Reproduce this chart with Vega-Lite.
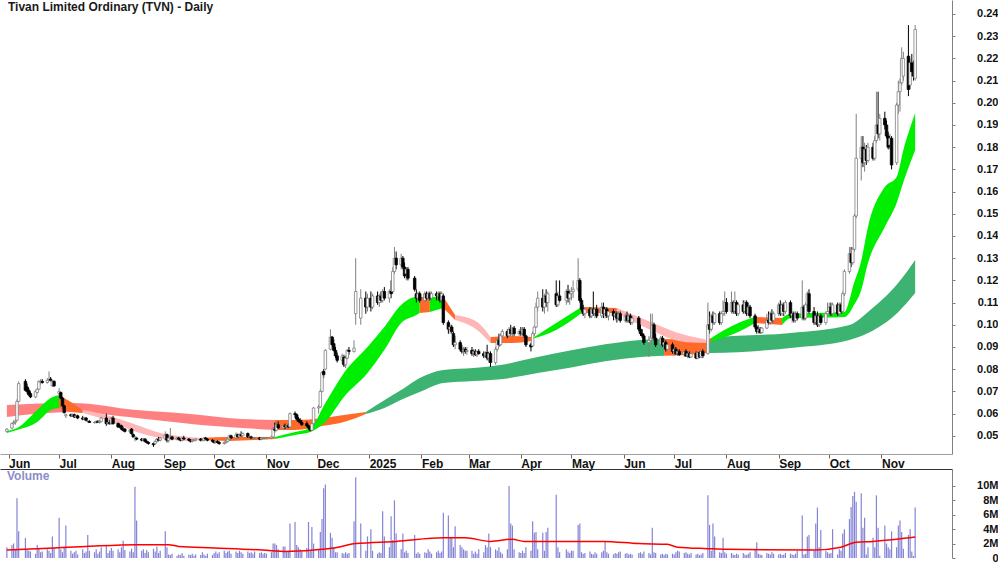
{
"$schema": "https://vega.github.io/schema/vega-lite/v6.json",
"padding": 0,
"background": "white",
"spacing": 15,
"bounds": "flush",
"config": {"font": "Liberation Sans", "view": {"stroke": null}, "axis": {"labelOverlap": false}},
"datasets": {
"px": [
{"d":"2024-05-31","o":0.0520,"h":0.0535,"l":0.0515,"c":0.0530,"v":1.5},
{"d":"2024-06-03","o":0.0535,"h":0.0560,"l":0.0530,"c":0.0555,"v":1.8},
{"d":"2024-06-04","o":0.0555,"h":0.0570,"l":0.0550,"c":0.0560,"v":2.0},
{"d":"2024-06-05","o":0.0560,"h":0.0575,"l":0.0550,"c":0.0565,"v":1.2},
{"d":"2024-06-06","o":0.0570,"h":0.0665,"l":0.0565,"c":0.0655,"v":8.3},
{"d":"2024-06-07","o":0.0655,"h":0.0745,"l":0.0650,"c":0.0735,"v":3.7},
{"d":"2024-06-11","o":0.0745,"h":0.0755,"l":0.0700,"c":0.0705,"v":2.8},
{"d":"2024-06-12","o":0.0720,"h":0.0735,"l":0.0690,"c":0.0700,"v":1.2},
{"d":"2024-06-13","o":0.0705,"h":0.0715,"l":0.0680,"c":0.0685,"v":1.0},
{"d":"2024-06-14","o":0.0690,"h":0.0700,"l":0.0670,"c":0.0675,"v":0.9},
{"d":"2024-06-17","o":0.0675,"h":0.0705,"l":0.0670,"c":0.0700,"v":0.6},
{"d":"2024-06-18","o":0.0695,"h":0.0715,"l":0.0690,"c":0.0710,"v":1.8},
{"d":"2024-06-19","o":0.0710,"h":0.0750,"l":0.0705,"c":0.0745,"v":1.3},
{"d":"2024-06-20","o":0.0740,"h":0.0755,"l":0.0730,"c":0.0745,"v":0.8},
{"d":"2024-06-21","o":0.0745,"h":0.0755,"l":0.0735,"c":0.0740,"v":0.9},
{"d":"2024-06-24","o":0.0740,"h":0.0760,"l":0.0735,"c":0.0750,"v":1.2},
{"d":"2024-06-25","o":0.0750,"h":0.0790,"l":0.0745,"c":0.0755,"v":1.0},
{"d":"2024-06-26","o":0.0755,"h":0.0765,"l":0.0745,"c":0.0750,"v":0.7},
{"d":"2024-06-27","o":0.0725,"h":0.0750,"l":0.0720,"c":0.0745,"v":3.0},
{"d":"2024-06-28","o":0.0745,"h":0.0750,"l":0.0720,"c":0.0725,"v":1.5},
{"d":"2024-07-01","o":0.0690,"h":0.0715,"l":0.0660,"c":0.0700,"v":5.6},
{"d":"2024-07-02","o":0.0695,"h":0.0700,"l":0.0665,"c":0.0670,"v":1.2},
{"d":"2024-07-03","o":0.0670,"h":0.0675,"l":0.0630,"c":0.0635,"v":0.8},
{"d":"2024-07-04","o":0.0635,"h":0.0640,"l":0.0600,"c":0.0605,"v":1.5},
{"d":"2024-07-05","o":0.0590,"h":0.0600,"l":0.0580,"c":0.0595,"v":4.5},
{"d":"2024-07-08","o":0.0595,"h":0.0600,"l":0.0585,"c":0.0590,"v":1.0},
{"d":"2024-07-09","o":0.0590,"h":0.0600,"l":0.0585,"c":0.0595,"v":0.6},
{"d":"2024-07-10","o":0.0595,"h":0.0600,"l":0.0580,"c":0.0585,"v":0.8},
{"d":"2024-07-11","o":0.0585,"h":0.0595,"l":0.0580,"c":0.0590,"v":1.0},
{"d":"2024-07-12","o":0.0590,"h":0.0595,"l":0.0575,"c":0.0580,"v":0.5},
{"d":"2024-07-15","o":0.0580,"h":0.0590,"l":0.0570,"c":0.0575,"v":1.2},
{"d":"2024-07-16","o":0.0575,"h":0.0585,"l":0.0570,"c":0.0580,"v":0.7},
{"d":"2024-07-17","o":0.0580,"h":0.0585,"l":0.0565,"c":0.0570,"v":0.9},
{"d":"2024-07-18","o":0.0565,"h":0.0570,"l":0.0560,"c":0.0565,"v":3.2},
{"d":"2024-07-19","o":0.0565,"h":0.0570,"l":0.0558,"c":0.0560,"v":1.0},
{"d":"2024-07-22","o":0.0560,"h":0.0565,"l":0.0555,"c":0.0560,"v":0.8},
{"d":"2024-07-23","o":0.0560,"h":0.0568,"l":0.0555,"c":0.0565,"v":1.2},
{"d":"2024-07-24","o":0.0565,"h":0.0570,"l":0.0558,"c":0.0560,"v":0.6},
{"d":"2024-07-25","o":0.0560,"h":0.0570,"l":0.0555,"c":0.0565,"v":0.9},
{"d":"2024-07-26","o":0.0565,"h":0.0585,"l":0.0560,"c":0.0580,"v":1.5},
{"d":"2024-07-29","o":0.0580,"h":0.0600,"l":0.0545,"c":0.0555,"v":1.8},
{"d":"2024-07-30","o":0.0555,"h":0.0570,"l":0.0550,"c":0.0560,"v":0.7},
{"d":"2024-07-31","o":0.0560,"h":0.0570,"l":0.0550,"c":0.0555,"v":1.0},
{"d":"2024-08-01","o":0.0555,"h":0.0585,"l":0.0550,"c":0.0580,"v":1.4},
{"d":"2024-08-02","o":0.0580,"h":0.0590,"l":0.0550,"c":0.0555,"v":1.0},
{"d":"2024-08-05","o":0.0555,"h":0.0560,"l":0.0535,"c":0.0540,"v":1.2},
{"d":"2024-08-06","o":0.0545,"h":0.0555,"l":0.0535,"c":0.0540,"v":0.8},
{"d":"2024-08-07","o":0.0545,"h":0.0550,"l":0.0525,"c":0.0530,"v":1.5},
{"d":"2024-08-08","o":0.0530,"h":0.0540,"l":0.0520,"c":0.0525,"v":2.4},
{"d":"2024-08-09","o":0.0530,"h":0.0535,"l":0.0515,"c":0.0520,"v":1.1},
{"d":"2024-08-12","o":0.0520,"h":0.0530,"l":0.0510,"c":0.0525,"v":0.9},
{"d":"2024-08-13","o":0.0530,"h":0.0535,"l":0.0505,"c":0.0510,"v":1.3},
{"d":"2024-08-14","o":0.0505,"h":0.0510,"l":0.0490,"c":0.0495,"v":0.8},
{"d":"2024-08-15","o":0.0490,"h":0.0500,"l":0.0475,"c":0.0495,"v":9.9},
{"d":"2024-08-16","o":0.0490,"h":0.0495,"l":0.0480,"c":0.0485,"v":5.2},
{"d":"2024-08-19","o":0.0485,"h":0.0490,"l":0.0475,"c":0.0480,"v":1.0},
{"d":"2024-08-20","o":0.0480,"h":0.0490,"l":0.0475,"c":0.0485,"v":1.2},
{"d":"2024-08-21","o":0.0485,"h":0.0490,"l":0.0470,"c":0.0475,"v":0.7},
{"d":"2024-08-22","o":0.0475,"h":0.0480,"l":0.0465,"c":0.0470,"v":1.1},
{"d":"2024-08-23","o":0.0470,"h":0.0475,"l":0.0460,"c":0.0465,"v":0.8},
{"d":"2024-08-26","o":0.0465,"h":0.0470,"l":0.0450,"c":0.0460,"v":1.3},
{"d":"2024-08-27","o":0.0465,"h":0.0480,"l":0.0460,"c":0.0475,"v":0.9},
{"d":"2024-08-28","o":0.0475,"h":0.0490,"l":0.0470,"c":0.0485,"v":1.6},
{"d":"2024-08-29","o":0.0485,"h":0.0495,"l":0.0475,"c":0.0480,"v":0.7},
{"d":"2024-08-30","o":0.0480,"h":0.0495,"l":0.0475,"c":0.0490,"v":1.0},
{"d":"2024-09-02","o":0.0485,"h":0.0520,"l":0.0480,"c":0.0505,"v":3.7},
{"d":"2024-09-03","o":0.0505,"h":0.0510,"l":0.0470,"c":0.0480,"v":1.5},
{"d":"2024-09-04","o":0.0480,"h":0.0495,"l":0.0470,"c":0.0490,"v":0.5},
{"d":"2024-09-05","o":0.0490,"h":0.0535,"l":0.0485,"c":0.0495,"v":0.4},
{"d":"2024-09-06","o":0.0495,"h":0.0500,"l":0.0480,"c":0.0485,"v":0.6},
{"d":"2024-09-09","o":0.0485,"h":0.0495,"l":0.0480,"c":0.0490,"v":0.3},
{"d":"2024-09-10","o":0.0490,"h":0.0495,"l":0.0480,"c":0.0485,"v":0.5},
{"d":"2024-09-11","o":0.0485,"h":0.0490,"l":0.0475,"c":0.0480,"v":0.4},
{"d":"2024-09-12","o":0.0480,"h":0.0495,"l":0.0475,"c":0.0490,"v":0.7},
{"d":"2024-09-13","o":0.0490,"h":0.0500,"l":0.0480,"c":0.0485,"v":0.3},
{"d":"2024-09-16","o":0.0485,"h":0.0490,"l":0.0475,"c":0.0480,"v":0.5},
{"d":"2024-09-17","o":0.0480,"h":0.0485,"l":0.0470,"c":0.0475,"v":0.4},
{"d":"2024-09-18","o":0.0475,"h":0.0485,"l":0.0470,"c":0.0480,"v":0.6},
{"d":"2024-09-19","o":0.0480,"h":0.0485,"l":0.0475,"c":0.0480,"v":0.3},
{"d":"2024-09-20","o":0.0480,"h":0.0490,"l":0.0475,"c":0.0485,"v":0.5},
{"d":"2024-09-23","o":0.0485,"h":0.0490,"l":0.0475,"c":0.0480,"v":0.4},
{"d":"2024-09-24","o":0.0480,"h":0.0485,"l":0.0475,"c":0.0480,"v":0.8},
{"d":"2024-09-25","o":0.0480,"h":0.0495,"l":0.0475,"c":0.0490,"v":0.5},
{"d":"2024-09-26","o":0.0490,"h":0.0495,"l":0.0480,"c":0.0485,"v":0.3},
{"d":"2024-09-27","o":0.0485,"h":0.0490,"l":0.0475,"c":0.0480,"v":0.6},
{"d":"2024-09-30","o":0.0480,"h":0.0485,"l":0.0470,"c":0.0475,"v":0.4},
{"d":"2024-10-01","o":0.0475,"h":0.0480,"l":0.0465,"c":0.0470,"v":0.7},
{"d":"2024-10-02","o":0.0470,"h":0.0480,"l":0.0465,"c":0.0475,"v":0.9},
{"d":"2024-10-03","o":0.0475,"h":0.0480,"l":0.0465,"c":0.0470,"v":0.6},
{"d":"2024-10-04","o":0.0470,"h":0.0475,"l":0.0460,"c":0.0465,"v":0.8},
{"d":"2024-10-07","o":0.0465,"h":0.0475,"l":0.0460,"c":0.0470,"v":1.0},
{"d":"2024-10-08","o":0.0470,"h":0.0480,"l":0.0465,"c":0.0475,"v":0.7},
{"d":"2024-10-09","o":0.0475,"h":0.0490,"l":0.0470,"c":0.0485,"v":0.9},
{"d":"2024-10-10","o":0.0485,"h":0.0505,"l":0.0480,"c":0.0500,"v":1.0},
{"d":"2024-10-11","o":0.0500,"h":0.0505,"l":0.0485,"c":0.0490,"v":0.6},
{"d":"2024-10-14","o":0.0490,"h":0.0515,"l":0.0485,"c":0.0505,"v":0.9},
{"d":"2024-10-15","o":0.0505,"h":0.0510,"l":0.0490,"c":0.0495,"v":0.7},
{"d":"2024-10-16","o":0.0495,"h":0.0510,"l":0.0490,"c":0.0505,"v":1.0},
{"d":"2024-10-17","o":0.0505,"h":0.0520,"l":0.0495,"c":0.0500,"v":0.8},
{"d":"2024-10-18","o":0.0500,"h":0.0515,"l":0.0495,"c":0.0510,"v":0.6},
{"d":"2024-10-21","o":0.0510,"h":0.0515,"l":0.0490,"c":0.0495,"v":0.9},
{"d":"2024-10-22","o":0.0495,"h":0.0500,"l":0.0490,"c":0.0495,"v":0.7},
{"d":"2024-10-23","o":0.0495,"h":0.0500,"l":0.0485,"c":0.0490,"v":0.8},
{"d":"2024-10-24","o":0.0490,"h":0.0495,"l":0.0485,"c":0.0490,"v":0.6},
{"d":"2024-10-25","o":0.0490,"h":0.0495,"l":0.0485,"c":0.0490,"v":0.9},
{"d":"2024-10-28","o":0.0490,"h":0.0495,"l":0.0480,"c":0.0485,"v":0.7},
{"d":"2024-10-29","o":0.0485,"h":0.0495,"l":0.0480,"c":0.0490,"v":0.8},
{"d":"2024-10-30","o":0.0490,"h":0.0495,"l":0.0485,"c":0.0490,"v":0.6},
{"d":"2024-10-31","o":0.0490,"h":0.0495,"l":0.0485,"c":0.0490,"v":0.7},
{"d":"2024-11-01","o":0.0490,"h":0.0495,"l":0.0485,"c":0.0490,"v":0.6},
{"d":"2024-11-04","o":0.0490,"h":0.0500,"l":0.0485,"c":0.0495,"v":0.8},
{"d":"2024-11-05","o":0.0495,"h":0.0540,"l":0.0490,"c":0.0530,"v":2.0},
{"d":"2024-11-06","o":0.0530,"h":0.0560,"l":0.0515,"c":0.0525,"v":2.0},
{"d":"2024-11-07","o":0.0525,"h":0.0560,"l":0.0520,"c":0.0550,"v":1.8},
{"d":"2024-11-08","o":0.0550,"h":0.0565,"l":0.0530,"c":0.0535,"v":1.2},
{"d":"2024-11-11","o":0.0535,"h":0.0550,"l":0.0525,"c":0.0545,"v":1.6},
{"d":"2024-11-12","o":0.0545,"h":0.0555,"l":0.0530,"c":0.0540,"v":1.6},
{"d":"2024-11-13","o":0.0540,"h":0.0550,"l":0.0530,"c":0.0545,"v":0.8},
{"d":"2024-11-14","o":0.0545,"h":0.0555,"l":0.0535,"c":0.0540,"v":1.0},
{"d":"2024-11-15","o":0.0540,"h":0.0605,"l":0.0535,"c":0.0600,"v":4.8},
{"d":"2024-11-18","o":0.0600,"h":0.0610,"l":0.0580,"c":0.0595,"v":5.0},
{"d":"2024-11-19","o":0.0595,"h":0.0600,"l":0.0570,"c":0.0575,"v":1.8},
{"d":"2024-11-20","o":0.0575,"h":0.0585,"l":0.0560,"c":0.0565,"v":1.5},
{"d":"2024-11-21","o":0.0570,"h":0.0580,"l":0.0555,"c":0.0560,"v":1.2},
{"d":"2024-11-22","o":0.0560,"h":0.0570,"l":0.0545,"c":0.0550,"v":0.9},
{"d":"2024-11-25","o":0.0555,"h":0.0565,"l":0.0540,"c":0.0545,"v":1.4},
{"d":"2024-11-26","o":0.0545,"h":0.0550,"l":0.0530,"c":0.0535,"v":5.0},
{"d":"2024-11-27","o":0.0535,"h":0.0545,"l":0.0520,"c":0.0525,"v":1.0},
{"d":"2024-11-28","o":0.0525,"h":0.0560,"l":0.0520,"c":0.0555,"v":4.3},
{"d":"2024-11-29","o":0.0555,"h":0.0630,"l":0.0550,"c":0.0625,"v":2.0},
{"d":"2024-12-02","o":0.0625,"h":0.0640,"l":0.0600,"c":0.0630,"v":1.3},
{"d":"2024-12-03","o":0.0630,"h":0.0710,"l":0.0625,"c":0.0700,"v":3.6},
{"d":"2024-12-04","o":0.0700,"h":0.0790,"l":0.0695,"c":0.0785,"v":5.4},
{"d":"2024-12-05","o":0.0790,"h":0.0800,"l":0.0760,"c":0.0775,"v":9.7},
{"d":"2024-12-06","o":0.0800,"h":0.0890,"l":0.0795,"c":0.0885,"v":10.2},
{"d":"2024-12-09","o":0.0890,"h":0.0980,"l":0.0885,"c":0.0945,"v":3.5},
{"d":"2024-12-10","o":0.0945,"h":0.0950,"l":0.0900,"c":0.0910,"v":2.8},
{"d":"2024-12-11","o":0.0915,"h":0.0935,"l":0.0880,"c":0.0885,"v":1.5},
{"d":"2024-12-12","o":0.0885,"h":0.0900,"l":0.0850,"c":0.0860,"v":0.8},
{"d":"2024-12-13","o":0.0860,"h":0.0875,"l":0.0830,"c":0.0840,"v":0.8},
{"d":"2024-12-16","o":0.0840,"h":0.0870,"l":0.0825,"c":0.0860,"v":0.7},
{"d":"2024-12-17","o":0.0855,"h":0.0865,"l":0.0810,"c":0.0820,"v":0.6},
{"d":"2024-12-18","o":0.0820,"h":0.0860,"l":0.0805,"c":0.0850,"v":0.8},
{"d":"2024-12-19","o":0.0850,"h":0.0890,"l":0.0845,"c":0.0885,"v":0.6},
{"d":"2024-12-20","o":0.0885,"h":0.0900,"l":0.0865,"c":0.0880,"v":0.7},
{"d":"2024-12-23","o":0.0880,"h":0.0930,"l":0.0875,"c":0.0895,"v":5.1},
{"d":"2024-12-24","o":0.1050,"h":0.1300,"l":0.1000,"c":0.1150,"v":11.2},
{"d":"2024-12-27","o":0.1030,"h":0.1160,"l":0.1000,"c":0.1120,"v":4.8},
{"d":"2024-12-30","o":0.1120,"h":0.1150,"l":0.1050,"c":0.1080,"v":1.0},
{"d":"2024-12-31","o":0.1080,"h":0.1140,"l":0.1060,"c":0.1120,"v":3.0},
{"d":"2025-01-02","o":0.1120,"h":0.1150,"l":0.1060,"c":0.1080,"v":4.0},
{"d":"2025-01-03","o":0.1080,"h":0.1140,"l":0.1070,"c":0.1130,"v":1.0},
{"d":"2025-01-06","o":0.1130,"h":0.1150,"l":0.1090,"c":0.1100,"v":0.6},
{"d":"2025-01-07","o":0.1100,"h":0.1140,"l":0.1080,"c":0.1130,"v":0.8},
{"d":"2025-01-08","o":0.1130,"h":0.1150,"l":0.1100,"c":0.1110,"v":0.7},
{"d":"2025-01-09","o":0.1110,"h":0.1160,"l":0.1100,"c":0.1150,"v":6.5},
{"d":"2025-01-10","o":0.1150,"h":0.1170,"l":0.1110,"c":0.1120,"v":3.0},
{"d":"2025-01-13","o":0.1120,"h":0.1160,"l":0.1100,"c":0.1150,"v":1.5},
{"d":"2025-01-14","o":0.1150,"h":0.1200,"l":0.1120,"c":0.1140,"v":5.8},
{"d":"2025-01-15","o":0.1150,"h":0.1260,"l":0.1140,"c":0.1240,"v":2.5},
{"d":"2025-01-16","o":0.1240,"h":0.1350,"l":0.1230,"c":0.1300,"v":8.0},
{"d":"2025-01-17","o":0.1300,"h":0.1330,"l":0.1250,"c":0.1270,"v":3.4},
{"d":"2025-01-20","o":0.1270,"h":0.1320,"l":0.1250,"c":0.1300,"v":1.2},
{"d":"2025-01-21","o":0.1300,"h":0.1310,"l":0.1250,"c":0.1260,"v":3.4},
{"d":"2025-01-22","o":0.1260,"h":0.1280,"l":0.1210,"c":0.1220,"v":0.8},
{"d":"2025-01-23","o":0.1230,"h":0.1260,"l":0.1200,"c":0.1250,"v":1.0},
{"d":"2025-01-24","o":0.1250,"h":0.1260,"l":0.1200,"c":0.1210,"v":0.7},
{"d":"2025-01-28","o":0.1210,"h":0.1220,"l":0.1150,"c":0.1160,"v":3.2},
{"d":"2025-01-29","o":0.1140,"h":0.1160,"l":0.1100,"c":0.1120,"v":0.6},
{"d":"2025-01-30","o":0.1120,"h":0.1150,"l":0.1110,"c":0.1140,"v":0.8},
{"d":"2025-01-31","o":0.1140,"h":0.1150,"l":0.1100,"c":0.1110,"v":0.6},
{"d":"2025-02-03","o":0.1110,"h":0.1150,"l":0.1100,"c":0.1140,"v":0.8},
{"d":"2025-02-04","o":0.1140,"h":0.1150,"l":0.1110,"c":0.1120,"v":0.7},
{"d":"2025-02-05","o":0.1120,"h":0.1150,"l":0.1110,"c":0.1140,"v":1.2},
{"d":"2025-02-06","o":0.1140,"h":0.1150,"l":0.1110,"c":0.1120,"v":0.9},
{"d":"2025-02-07","o":0.1120,"h":0.1150,"l":0.1110,"c":0.1140,"v":0.6},
{"d":"2025-02-10","o":0.1140,"h":0.1150,"l":0.1110,"c":0.1130,"v":0.8},
{"d":"2025-02-11","o":0.1130,"h":0.1150,"l":0.1110,"c":0.1140,"v":1.0},
{"d":"2025-02-12","o":0.1140,"h":0.1150,"l":0.1100,"c":0.1110,"v":0.7},
{"d":"2025-02-13","o":0.1110,"h":0.1150,"l":0.1100,"c":0.1140,"v":0.9},
{"d":"2025-02-14","o":0.1130,"h":0.1140,"l":0.1000,"c":0.1010,"v":6.3},
{"d":"2025-02-17","o":0.1010,"h":0.1020,"l":0.0960,"c":0.0980,"v":5.9},
{"d":"2025-02-18","o":0.0980,"h":0.1000,"l":0.0960,"c":0.0990,"v":2.8},
{"d":"2025-02-19","o":0.0990,"h":0.1000,"l":0.0960,"c":0.0970,"v":2.8},
{"d":"2025-02-20","o":0.0960,"h":0.0970,"l":0.0900,"c":0.0910,"v":1.5},
{"d":"2025-02-21","o":0.0910,"h":0.0950,"l":0.0890,"c":0.0920,"v":4.4},
{"d":"2025-02-24","o":0.0920,"h":0.0930,"l":0.0880,"c":0.0890,"v":1.8},
{"d":"2025-02-25","o":0.0890,"h":0.0910,"l":0.0870,"c":0.0880,"v":1.5},
{"d":"2025-02-26","o":0.0880,"h":0.0900,"l":0.0860,"c":0.0890,"v":1.2},
{"d":"2025-02-27","o":0.0890,"h":0.0900,"l":0.0870,"c":0.0880,"v":1.0},
{"d":"2025-02-28","o":0.0880,"h":0.0900,"l":0.0865,"c":0.0885,"v":1.0},
{"d":"2025-03-03","o":0.0885,"h":0.0900,"l":0.0860,"c":0.0870,"v":1.0},
{"d":"2025-03-04","o":0.0870,"h":0.0890,"l":0.0855,"c":0.0880,"v":0.6},
{"d":"2025-03-05","o":0.0880,"h":0.0890,"l":0.0860,"c":0.0865,"v":0.9},
{"d":"2025-03-06","o":0.0865,"h":0.0885,"l":0.0855,"c":0.0880,"v":0.6},
{"d":"2025-03-07","o":0.0880,"h":0.0890,"l":0.0865,"c":0.0870,"v":1.2},
{"d":"2025-03-10","o":0.0870,"h":0.0880,"l":0.0850,"c":0.0860,"v":0.8},
{"d":"2025-03-11","o":0.0860,"h":0.0880,"l":0.0855,"c":0.0875,"v":1.8},
{"d":"2025-03-12","o":0.0875,"h":0.0910,"l":0.0840,"c":0.0850,"v":1.5},
{"d":"2025-03-13","o":0.0850,"h":0.0880,"l":0.0830,"c":0.0870,"v":3.4},
{"d":"2025-03-14","o":0.0870,"h":0.0880,"l":0.0810,"c":0.0830,"v":1.5},
{"d":"2025-03-17","o":0.0830,"h":0.0900,"l":0.0820,"c":0.0890,"v":1.2},
{"d":"2025-03-18","o":0.0890,"h":0.0940,"l":0.0880,"c":0.0930,"v":1.0},
{"d":"2025-03-19","o":0.0930,"h":0.0960,"l":0.0900,"c":0.0910,"v":1.5},
{"d":"2025-03-20","o":0.0910,"h":0.0960,"l":0.0905,"c":0.0950,"v":0.8},
{"d":"2025-03-21","o":0.0950,"h":0.0980,"l":0.0940,"c":0.0970,"v":0.6},
{"d":"2025-03-24","o":0.0970,"h":0.0980,"l":0.0940,"c":0.0950,"v":1.2},
{"d":"2025-03-25","o":0.0950,"h":0.0990,"l":0.0945,"c":0.0980,"v":10.0},
{"d":"2025-03-26","o":0.0980,"h":0.1000,"l":0.0950,"c":0.0960,"v":4.8},
{"d":"2025-03-27","o":0.0960,"h":0.0990,"l":0.0945,"c":0.0985,"v":4.5},
{"d":"2025-03-28","o":0.0985,"h":0.0995,"l":0.0950,"c":0.0960,"v":1.2},
{"d":"2025-03-31","o":0.0960,"h":0.0980,"l":0.0950,"c":0.0970,"v":0.8},
{"d":"2025-04-01","o":0.0970,"h":0.0990,"l":0.0950,"c":0.0960,"v":0.7},
{"d":"2025-04-02","o":0.0960,"h":0.0990,"l":0.0955,"c":0.0980,"v":1.0},
{"d":"2025-04-03","o":0.0980,"h":0.0990,"l":0.0940,"c":0.0950,"v":0.7},
{"d":"2025-04-04","o":0.0950,"h":0.0955,"l":0.0900,"c":0.0910,"v":1.5},
{"d":"2025-04-07","o":0.0910,"h":0.0920,"l":0.0880,"c":0.0900,"v":1.0},
{"d":"2025-04-08","o":0.0905,"h":0.0970,"l":0.0900,"c":0.0960,"v":5.1},
{"d":"2025-04-09","o":0.0960,"h":0.0995,"l":0.0950,"c":0.0990,"v":3.5},
{"d":"2025-04-10","o":0.0990,"h":0.1100,"l":0.0985,"c":0.1080,"v":3.6},
{"d":"2025-04-11","o":0.1080,"h":0.1150,"l":0.1060,"c":0.1120,"v":1.2},
{"d":"2025-04-14","o":0.1120,"h":0.1160,"l":0.1060,"c":0.1080,"v":3.5},
{"d":"2025-04-15","o":0.1080,"h":0.1140,"l":0.1050,"c":0.1130,"v":1.0},
{"d":"2025-04-16","o":0.1130,"h":0.1160,"l":0.1080,"c":0.1100,"v":3.6},
{"d":"2025-04-17","o":0.1100,"h":0.1150,"l":0.1060,"c":0.1140,"v":4.2},
{"d":"2025-04-22","o":0.1140,"h":0.1200,"l":0.1080,"c":0.1090,"v":8.8},
{"d":"2025-04-23","o":0.1090,"h":0.1150,"l":0.1080,"c":0.1130,"v":1.5},
{"d":"2025-04-24","o":0.1130,"h":0.1200,"l":0.1100,"c":0.1110,"v":0.8},
{"d":"2025-04-28","o":0.1110,"h":0.1160,"l":0.1090,"c":0.1150,"v":1.2},
{"d":"2025-04-29","o":0.1150,"h":0.1180,"l":0.1100,"c":0.1120,"v":0.9},
{"d":"2025-04-30","o":0.1120,"h":0.1160,"l":0.1090,"c":0.1140,"v":0.7},
{"d":"2025-05-01","o":0.1140,"h":0.1170,"l":0.1110,"c":0.1150,"v":1.0},
{"d":"2025-05-02","o":0.1150,"h":0.1200,"l":0.1120,"c":0.1160,"v":1.0},
{"d":"2025-05-05","o":0.1160,"h":0.1300,"l":0.1150,"c":0.1200,"v":4.6},
{"d":"2025-05-06","o":0.1200,"h":0.1210,"l":0.1100,"c":0.1110,"v":4.8},
{"d":"2025-05-07","o":0.1110,"h":0.1120,"l":0.1060,"c":0.1070,"v":0.8},
{"d":"2025-05-08","o":0.1070,"h":0.1090,"l":0.1040,"c":0.1050,"v":0.6},
{"d":"2025-05-09","o":0.1050,"h":0.1080,"l":0.1030,"c":0.1070,"v":0.7},
{"d":"2025-05-12","o":0.1070,"h":0.1080,"l":0.1030,"c":0.1040,"v":0.9},
{"d":"2025-05-13","o":0.1040,"h":0.1080,"l":0.1030,"c":0.1070,"v":0.6},
{"d":"2025-05-14","o":0.1070,"h":0.1150,"l":0.1040,"c":0.1050,"v":0.5},
{"d":"2025-05-15","o":0.1050,"h":0.1080,"l":0.1030,"c":0.1070,"v":0.8},
{"d":"2025-05-16","o":0.1070,"h":0.1090,"l":0.1030,"c":0.1040,"v":0.6},
{"d":"2025-05-19","o":0.1040,"h":0.1100,"l":0.1030,"c":0.1080,"v":0.8},
{"d":"2025-05-20","o":0.1080,"h":0.1100,"l":0.1030,"c":0.1050,"v":1.0},
{"d":"2025-05-21","o":0.1050,"h":0.1080,"l":0.1030,"c":0.1070,"v":2.3},
{"d":"2025-05-22","o":0.1070,"h":0.1080,"l":0.1030,"c":0.1040,"v":0.8},
{"d":"2025-05-23","o":0.1040,"h":0.1070,"l":0.1020,"c":0.1060,"v":0.6},
{"d":"2025-05-26","o":0.1060,"h":0.1070,"l":0.1020,"c":0.1040,"v":0.5},
{"d":"2025-05-27","o":0.1040,"h":0.1060,"l":0.1020,"c":0.1050,"v":0.7},
{"d":"2025-05-28","o":0.1050,"h":0.1060,"l":0.1010,"c":0.1030,"v":0.6},
{"d":"2025-05-29","o":0.1030,"h":0.1060,"l":0.1020,"c":0.1050,"v":0.8},
{"d":"2025-05-30","o":0.1050,"h":0.1060,"l":0.1010,"c":0.1020,"v":0.9},
{"d":"2025-06-02","o":0.1020,"h":0.1050,"l":0.1010,"c":0.1040,"v":0.6},
{"d":"2025-06-03","o":0.1040,"h":0.1060,"l":0.1010,"c":0.1020,"v":0.7},
{"d":"2025-06-04","o":0.1020,"h":0.1050,"l":0.1010,"c":0.1040,"v":0.5},
{"d":"2025-06-05","o":0.1040,"h":0.1050,"l":0.1000,"c":0.1010,"v":0.6},
{"d":"2025-06-06","o":0.1010,"h":0.1040,"l":0.1000,"c":0.1030,"v":0.5},
{"d":"2025-06-10","o":0.1030,"h":0.1040,"l":0.0970,"c":0.0980,"v":0.7},
{"d":"2025-06-11","o":0.0980,"h":0.1000,"l":0.0950,"c":0.0960,"v":0.8},
{"d":"2025-06-12","o":0.0960,"h":0.0980,"l":0.0940,"c":0.0950,"v":0.6},
{"d":"2025-06-13","o":0.0950,"h":0.0960,"l":0.0910,"c":0.0920,"v":0.9},
{"d":"2025-06-16","o":0.0920,"h":0.0950,"l":0.0855,"c":0.0930,"v":0.7},
{"d":"2025-06-17","o":0.0930,"h":0.1050,"l":0.0920,"c":0.0940,"v":0.5},
{"d":"2025-06-18","o":0.0940,"h":0.1050,"l":0.0930,"c":0.1000,"v":4.2},
{"d":"2025-06-19","o":0.1000,"h":0.1010,"l":0.0930,"c":0.0940,"v":0.8},
{"d":"2025-06-20","o":0.0940,"h":0.0960,"l":0.0900,"c":0.0910,"v":0.7},
{"d":"2025-06-23","o":0.0910,"h":0.0950,"l":0.0900,"c":0.0940,"v":0.5},
{"d":"2025-06-24","o":0.0940,"h":0.0950,"l":0.0900,"c":0.0910,"v":0.6},
{"d":"2025-06-25","o":0.0910,"h":0.0940,"l":0.0890,"c":0.0920,"v":0.4},
{"d":"2025-06-26","o":0.0920,"h":0.0930,"l":0.0880,"c":0.0890,"v":0.6},
{"d":"2025-06-27","o":0.0890,"h":0.0920,"l":0.0880,"c":0.0910,"v":0.5},
{"d":"2025-06-30","o":0.0910,"h":0.0920,"l":0.0870,"c":0.0880,"v":0.6},
{"d":"2025-07-01","o":0.0880,"h":0.0900,"l":0.0860,"c":0.0890,"v":0.5},
{"d":"2025-07-02","o":0.0890,"h":0.0900,"l":0.0865,"c":0.0870,"v":0.8},
{"d":"2025-07-03","o":0.0870,"h":0.0890,"l":0.0860,"c":0.0880,"v":1.0},
{"d":"2025-07-04","o":0.0880,"h":0.0890,"l":0.0860,"c":0.0865,"v":0.9},
{"d":"2025-07-07","o":0.0865,"h":0.0885,"l":0.0855,"c":0.0880,"v":0.7},
{"d":"2025-07-08","o":0.0880,"h":0.0890,"l":0.0855,"c":0.0860,"v":0.8},
{"d":"2025-07-09","o":0.0860,"h":0.0880,"l":0.0850,"c":0.0870,"v":0.6},
{"d":"2025-07-10","o":0.0870,"h":0.0880,"l":0.0850,"c":0.0855,"v":0.5},
{"d":"2025-07-11","o":0.0855,"h":0.0875,"l":0.0850,"c":0.0870,"v":0.7},
{"d":"2025-07-14","o":0.0870,"h":0.0880,"l":0.0845,"c":0.0850,"v":0.5},
{"d":"2025-07-15","o":0.0850,"h":0.0880,"l":0.0845,"c":0.0875,"v":0.6},
{"d":"2025-07-16","o":0.0875,"h":0.0880,"l":0.0850,"c":0.0855,"v":0.4},
{"d":"2025-07-17","o":0.0855,"h":0.0885,"l":0.0850,"c":0.0880,"v":0.5},
{"d":"2025-07-18","o":0.0880,"h":0.0890,"l":0.0850,"c":0.0860,"v":0.7},
{"d":"2025-07-21","o":0.0870,"h":0.1100,"l":0.0865,"c":0.1000,"v":8.7},
{"d":"2025-07-22","o":0.1000,"h":0.1060,"l":0.0960,"c":0.0980,"v":4.6},
{"d":"2025-07-23","o":0.0980,"h":0.1050,"l":0.0970,"c":0.1040,"v":1.0},
{"d":"2025-07-24","o":0.1040,"h":0.1060,"l":0.1000,"c":0.1010,"v":4.8},
{"d":"2025-07-25","o":0.1010,"h":0.1055,"l":0.1000,"c":0.1050,"v":3.0},
{"d":"2025-07-28","o":0.1050,"h":0.1060,"l":0.1000,"c":0.1010,"v":0.8},
{"d":"2025-07-29","o":0.1010,"h":0.1060,"l":0.1000,"c":0.1050,"v":0.7},
{"d":"2025-07-30","o":0.1050,"h":0.1110,"l":0.1040,"c":0.1060,"v":2.8},
{"d":"2025-07-31","o":0.1060,"h":0.1150,"l":0.1040,"c":0.1100,"v":0.8},
{"d":"2025-08-01","o":0.1100,"h":0.1120,"l":0.1050,"c":0.1060,"v":0.6},
{"d":"2025-08-04","o":0.1060,"h":0.1150,"l":0.1050,"c":0.1100,"v":0.7},
{"d":"2025-08-05","o":0.1100,"h":0.1110,"l":0.1050,"c":0.1060,"v":0.5},
{"d":"2025-08-06","o":0.1060,"h":0.1150,"l":0.1050,"c":0.1100,"v":0.4},
{"d":"2025-08-07","o":0.1100,"h":0.1110,"l":0.1040,"c":0.1050,"v":0.6},
{"d":"2025-08-08","o":0.1050,"h":0.1100,"l":0.1040,"c":0.1090,"v":0.5},
{"d":"2025-08-11","o":0.1090,"h":0.1110,"l":0.1050,"c":0.1060,"v":0.7},
{"d":"2025-08-12","o":0.1060,"h":0.1110,"l":0.1050,"c":0.1100,"v":0.5},
{"d":"2025-08-13","o":0.1100,"h":0.1110,"l":0.1040,"c":0.1050,"v":0.4},
{"d":"2025-08-14","o":0.1050,"h":0.1100,"l":0.1040,"c":0.1080,"v":0.6},
{"d":"2025-08-15","o":0.1080,"h":0.1090,"l":0.1030,"c":0.1040,"v":0.8},
{"d":"2025-08-18","o":0.1040,"h":0.1050,"l":0.0980,"c":0.0990,"v":1.2},
{"d":"2025-08-19","o":0.0990,"h":0.1000,"l":0.0960,"c":0.0970,"v":2.2},
{"d":"2025-08-20","o":0.0970,"h":0.1000,"l":0.0960,"c":0.0980,"v":0.6},
{"d":"2025-08-21","o":0.0980,"h":0.0990,"l":0.0960,"c":0.0965,"v":0.5},
{"d":"2025-08-22","o":0.0965,"h":0.0990,"l":0.0960,"c":0.0985,"v":0.4},
{"d":"2025-08-25","o":0.0985,"h":0.1050,"l":0.0980,"c":0.1020,"v":0.7},
{"d":"2025-08-26","o":0.1020,"h":0.1060,"l":0.1000,"c":0.1010,"v":0.6},
{"d":"2025-08-27","o":0.1010,"h":0.1060,"l":0.1000,"c":0.1050,"v":0.5},
{"d":"2025-08-28","o":0.1050,"h":0.1070,"l":0.1010,"c":0.1020,"v":0.8},
{"d":"2025-08-29","o":0.1020,"h":0.1060,"l":0.1010,"c":0.1050,"v":0.6},
{"d":"2025-09-01","o":0.1050,"h":0.1100,"l":0.1040,"c":0.1090,"v":0.5},
{"d":"2025-09-02","o":0.1090,"h":0.1110,"l":0.1040,"c":0.1050,"v":0.6},
{"d":"2025-09-03","o":0.1050,"h":0.1100,"l":0.1040,"c":0.1090,"v":0.4},
{"d":"2025-09-04","o":0.1090,"h":0.1100,"l":0.1040,"c":0.1060,"v":0.5},
{"d":"2025-09-05","o":0.1060,"h":0.1110,"l":0.1050,"c":0.1100,"v":0.7},
{"d":"2025-09-08","o":0.1100,"h":0.1110,"l":0.1030,"c":0.1040,"v":0.6},
{"d":"2025-09-09","o":0.1040,"h":0.1060,"l":0.1010,"c":0.1050,"v":0.5},
{"d":"2025-09-10","o":0.1050,"h":0.1060,"l":0.1010,"c":0.1020,"v":0.4},
{"d":"2025-09-11","o":0.1020,"h":0.1060,"l":0.1010,"c":0.1050,"v":0.6},
{"d":"2025-09-12","o":0.1050,"h":0.1060,"l":0.1020,"c":0.1030,"v":1.0},
{"d":"2025-09-15","o":0.1030,"h":0.1200,"l":0.1020,"c":0.1080,"v":5.9},
{"d":"2025-09-16","o":0.1080,"h":0.1090,"l":0.1020,"c":0.1030,"v":0.5},
{"d":"2025-09-17","o":0.1030,"h":0.1100,"l":0.1020,"c":0.1090,"v":0.6},
{"d":"2025-09-18","o":0.1090,"h":0.1150,"l":0.1060,"c":0.1140,"v":3.0},
{"d":"2025-09-19","o":0.1140,"h":0.1160,"l":0.1050,"c":0.1060,"v":3.2},
{"d":"2025-09-22","o":0.1060,"h":0.1080,"l":0.1000,"c":0.1010,"v":1.0},
{"d":"2025-09-23","o":0.1010,"h":0.1050,"l":0.1000,"c":0.1040,"v":4.8},
{"d":"2025-09-24","o":0.1040,"h":0.1060,"l":0.0990,"c":0.1000,"v":7.0},
{"d":"2025-09-25","o":0.1000,"h":0.1050,"l":0.0990,"c":0.1040,"v":1.5},
{"d":"2025-09-26","o":0.1040,"h":0.1050,"l":0.1000,"c":0.1010,"v":3.9},
{"d":"2025-09-29","o":0.1010,"h":0.1060,"l":0.1000,"c":0.1050,"v":1.0},
{"d":"2025-09-30","o":0.1050,"h":0.1100,"l":0.1040,"c":0.1060,"v":0.8},
{"d":"2025-10-01","o":0.1060,"h":0.1100,"l":0.1040,"c":0.1080,"v":0.6},
{"d":"2025-10-02","o":0.1080,"h":0.1100,"l":0.1040,"c":0.1050,"v":0.7},
{"d":"2025-10-03","o":0.1050,"h":0.1100,"l":0.1040,"c":0.1090,"v":4.0},
{"d":"2025-10-06","o":0.1090,"h":0.1100,"l":0.1040,"c":0.1050,"v":0.5},
{"d":"2025-10-07","o":0.1050,"h":0.1100,"l":0.1040,"c":0.1090,"v":1.2},
{"d":"2025-10-08","o":0.1090,"h":0.1100,"l":0.1050,"c":0.1060,"v":1.0},
{"d":"2025-10-09","o":0.1060,"h":0.1150,"l":0.1050,"c":0.1140,"v":3.4},
{"d":"2025-10-10","o":0.1140,"h":0.1250,"l":0.1130,"c":0.1240,"v":4.0},
{"d":"2025-10-13","o":0.1240,"h":0.1350,"l":0.1230,"c":0.1320,"v":5.4},
{"d":"2025-10-14","o":0.1320,"h":0.1350,"l":0.1260,"c":0.1280,"v":7.1},
{"d":"2025-10-15","o":0.1280,"h":0.1350,"l":0.1270,"c":0.1340,"v":8.6},
{"d":"2025-10-16","o":0.1340,"h":0.1500,"l":0.1330,"c":0.1490,"v":9.2},
{"d":"2025-10-17","o":0.1490,"h":0.1950,"l":0.1480,"c":0.1750,"v":7.8},
{"d":"2025-10-20","o":0.1750,"h":0.1850,"l":0.1650,"c":0.1800,"v":9.0},
{"d":"2025-10-21","o":0.1800,"h":0.1850,"l":0.1710,"c":0.1730,"v":4.2},
{"d":"2025-10-22","o":0.1730,"h":0.1820,"l":0.1690,"c":0.1790,"v":5.6},
{"d":"2025-10-23","o":0.1790,"h":0.1810,"l":0.1720,"c":0.1740,"v":0.5},
{"d":"2025-10-24","o":0.1740,"h":0.1820,"l":0.1730,"c":0.1800,"v":1.5},
{"d":"2025-10-27","o":0.1800,"h":0.1820,"l":0.1740,"c":0.1750,"v":2.8},
{"d":"2025-10-28","o":0.1750,"h":0.1850,"l":0.1740,"c":0.1830,"v":1.5},
{"d":"2025-10-29","o":0.1830,"h":0.2050,"l":0.1820,"c":0.1900,"v":8.7},
{"d":"2025-10-30","o":0.1900,"h":0.2050,"l":0.1840,"c":0.1860,"v":4.2},
{"d":"2025-10-31","o":0.1860,"h":0.1950,"l":0.1830,"c":0.1930,"v":0.3},
{"d":"2025-11-03","o":0.1930,"h":0.1960,"l":0.1880,"c":0.1900,"v":4.5},
{"d":"2025-11-04","o":0.1900,"h":0.1920,"l":0.1840,"c":0.1850,"v":2.0},
{"d":"2025-11-05","o":0.1850,"h":0.1870,"l":0.1790,"c":0.1800,"v":1.5},
{"d":"2025-11-06","o":0.1810,"h":0.1860,"l":0.1790,"c":0.1840,"v":1.2},
{"d":"2025-11-07","o":0.1840,"h":0.1850,"l":0.1700,"c":0.1720,"v":3.7},
{"d":"2025-11-10","o":0.1730,"h":0.2000,"l":0.1720,"c":0.1990,"v":1.5},
{"d":"2025-11-11","o":0.1990,"h":0.2100,"l":0.1950,"c":0.2050,"v":4.5},
{"d":"2025-11-12","o":0.2050,"h":0.2110,"l":0.1960,"c":0.2090,"v":5.2},
{"d":"2025-11-13","o":0.2090,"h":0.2250,"l":0.2080,"c":0.2200,"v":3.6},
{"d":"2025-11-14","o":0.2120,"h":0.2230,"l":0.2100,"c":0.2200,"v":1.3},
{"d":"2025-11-17","o":0.2210,"h":0.2350,"l":0.2030,"c":0.2060,"v":3.2},
{"d":"2025-11-18","o":0.2080,"h":0.2200,"l":0.2060,"c":0.2180,"v":4.0},
{"d":"2025-11-19","o":0.2180,"h":0.2220,"l":0.2120,"c":0.2140,"v":0.9},
{"d":"2025-11-20","o":0.2150,"h":0.2190,"l":0.2100,"c":0.2120,"v":0.3},
{"d":"2025-11-21","o":0.2110,"h":0.2350,"l":0.2100,"c":0.2330,"v":7.0}
],
"lr": [
{"d":"2024-05-31","hi":0.0639,"lo":0.0585,"s":"lDown","g":"L1"},
{"d":"2024-07-09","hi":0.0648,"lo":0.0607,"s":"lDown","g":"L1"},
{"d":"2024-08-16","hi":0.0616,"lo":0.0580,"s":"lDown","g":"L1"},
{"d":"2024-09-23","hi":0.0594,"lo":0.0549,"s":"lDown","g":"L1"},
{"d":"2024-10-09","hi":0.0580,"lo":0.0540,"s":"lDown","g":"L1"},
{"d":"2024-11-06","hi":0.0571,"lo":0.0526,"s":"lDown","g":"L1"},
{"d":"2024-11-06","hi":0.0571,"lo":0.0526,"s":"mix","g":"L2"},
{"d":"2024-11-18","hi":0.0571,"lo":0.0526,"s":"mix","g":"L2"},
{"d":"2024-12-05","hi":0.0580,"lo":0.0545,"s":"mix","g":"L2"},
{"d":"2024-12-17","hi":0.0594,"lo":0.0562,"s":"mix","g":"L2"},
{"d":"2024-12-30","hi":0.0607,"lo":0.0598,"s":"mix","g":"L2"},
{"d":"2024-12-30","hi":0.0607,"lo":0.0598,"s":"lUp","g":"L3"},
{"d":"2025-01-10","hi":0.0660,"lo":0.0625,"s":"lUp","g":"L3"},
{"d":"2025-01-20","hi":0.0706,"lo":0.0662,"s":"lUp","g":"L3"},
{"d":"2025-01-31","hi":0.0760,"lo":0.0697,"s":"lUp","g":"L3"},
{"d":"2025-02-14","hi":0.0796,"lo":0.0738,"s":"lUp","g":"L3"},
{"d":"2025-03-04","hi":0.0805,"lo":0.0747,"s":"lUp","g":"L3"},
{"d":"2025-03-20","hi":0.0819,"lo":0.0755,"s":"lUp","g":"L3"},
{"d":"2025-04-11","hi":0.0855,"lo":0.0783,"s":"lUp","g":"L3"},
{"d":"2025-05-01","hi":0.0885,"lo":0.0808,"s":"lUp","g":"L3"},
{"d":"2025-05-22","hi":0.0913,"lo":0.0837,"s":"lUp","g":"L3"},
{"d":"2025-06-11","hi":0.0932,"lo":0.0855,"s":"lUp","g":"L3"},
{"d":"2025-06-25","hi":0.0936,"lo":0.0860,"s":"lUp","g":"L3"},
{"d":"2025-06-25","hi":0.0936,"lo":0.0860,"s":"mix","g":"L4"},
{"d":"2025-07-08","hi":0.0932,"lo":0.0864,"s":"mix","g":"L4"},
{"d":"2025-07-21","hi":0.0923,"lo":0.0873,"s":"mix","g":"L4"},
{"d":"2025-07-21","hi":0.0923,"lo":0.0873,"s":"lUp","g":"L5"},
{"d":"2025-07-23","hi":0.0941,"lo":0.0873,"s":"lUp","g":"L5"},
{"d":"2025-09-08","hi":0.0963,"lo":0.0896,"s":"lUp","g":"L5"},
{"d":"2025-10-13","hi":0.0999,"lo":0.0932,"s":"lUp","g":"L5"},
{"d":"2025-10-24","hi":0.1058,"lo":0.0963,"s":"lUp","g":"L5"},
{"d":"2025-11-11","hi":0.1189,"lo":0.1058,"s":"lUp","g":"L5"},
{"d":"2025-11-21","hi":0.1292,"lo":0.1143,"s":"lUp","g":"L5"}
],
"sr": [
{"d":"2024-05-31","hi":0.0522,"lo":0.0513,"s":"sUp","g":"S1"},
{"d":"2024-06-06","hi":0.0535,"lo":0.0526,"s":"sUp","g":"S1"},
{"d":"2024-06-18","hi":0.0616,"lo":0.0562,"s":"sUp","g":"S1"},
{"d":"2024-06-26","hi":0.0670,"lo":0.0616,"s":"sUp","g":"S1"},
{"d":"2024-07-01","hi":0.0684,"lo":0.0625,"s":"sUp","g":"S1"},
{"d":"2024-07-01","hi":0.0684,"lo":0.0625,"s":"mix","g":"S2"},
{"d":"2024-07-08","hi":0.0652,"lo":0.0607,"s":"mix","g":"S2"},
{"d":"2024-07-15","hi":0.0616,"lo":0.0603,"s":"mix","g":"S2"},
{"d":"2024-07-15","hi":0.0616,"lo":0.0603,"s":"sDown","g":"S3"},
{"d":"2024-07-29","hi":0.0594,"lo":0.0571,"s":"sDown","g":"S3"},
{"d":"2024-08-16","hi":0.0549,"lo":0.0517,"s":"sDown","g":"S3"},
{"d":"2024-08-30","hi":0.0513,"lo":0.0490,"s":"sDown","g":"S3"},
{"d":"2024-09-16","hi":0.0495,"lo":0.0477,"s":"sDown","g":"S3"},
{"d":"2024-09-23","hi":0.0490,"lo":0.0481,"s":"sDown","g":"S3"},
{"d":"2024-09-23","hi":0.0490,"lo":0.0481,"s":"mix","g":"S4"},
{"d":"2024-10-10","hi":0.0495,"lo":0.0477,"s":"mix","g":"S4"},
{"d":"2024-10-25","hi":0.0495,"lo":0.0481,"s":"mix","g":"S4"},
{"d":"2024-11-06","hi":0.0495,"lo":0.0486,"s":"mix","g":"S4"},
{"d":"2024-11-06","hi":0.0495,"lo":0.0486,"s":"sUp","g":"S5"},
{"d":"2024-11-18","hi":0.0517,"lo":0.0504,"s":"sUp","g":"S5"},
{"d":"2024-11-27","hi":0.0535,"lo":0.0517,"s":"sUp","g":"S5"},
{"d":"2024-12-06","hi":0.0648,"lo":0.0562,"s":"sUp","g":"S5"},
{"d":"2024-12-17","hi":0.0783,"lo":0.0675,"s":"sUp","g":"S5"},
{"d":"2024-12-31","hi":0.0900,"lo":0.0783,"s":"sUp","g":"S5"},
{"d":"2025-01-10","hi":0.0990,"lo":0.0886,"s":"sUp","g":"S5"},
{"d":"2025-01-20","hi":0.1089,"lo":0.1008,"s":"sUp","g":"S5"},
{"d":"2025-01-29","hi":0.1125,"lo":0.1044,"s":"sUp","g":"S5"},
{"d":"2025-01-31","hi":0.1125,"lo":0.1053,"s":"sUp","g":"S5"},
{"d":"2025-01-31","hi":0.1125,"lo":0.1053,"s":"mix","g":"S6"},
{"d":"2025-02-06","hi":0.1125,"lo":0.1058,"s":"mix","g":"S6"},
{"d":"2025-02-06","hi":0.1125,"lo":0.1058,"s":"sUp","g":"S7"},
{"d":"2025-02-14","hi":0.1125,"lo":0.1076,"s":"sUp","g":"S7"},
{"d":"2025-02-14","hi":0.1125,"lo":0.1076,"s":"mix","g":"S8"},
{"d":"2025-02-21","hi":0.1044,"lo":0.1022,"s":"mix","g":"S8"},
{"d":"2025-02-21","hi":0.1044,"lo":0.1022,"s":"sDown","g":"S9"},
{"d":"2025-03-06","hi":0.1013,"lo":0.0977,"s":"sDown","g":"S9"},
{"d":"2025-03-14","hi":0.0945,"lo":0.0918,"s":"sDown","g":"S9"},
{"d":"2025-03-14","hi":0.0945,"lo":0.0918,"s":"mix","g":"S10"},
{"d":"2025-03-27","hi":0.0950,"lo":0.0918,"s":"mix","g":"S10"},
{"d":"2025-04-07","hi":0.0945,"lo":0.0927,"s":"mix","g":"S10"},
{"d":"2025-04-08","hi":0.0941,"lo":0.0937,"s":"mix","g":"S10"},
{"d":"2025-04-08","hi":0.0941,"lo":0.0937,"s":"sUp","g":"S11"},
{"d":"2025-04-22","hi":0.1008,"lo":0.0977,"s":"sUp","g":"S11"},
{"d":"2025-05-07","hi":0.1080,"lo":0.1053,"s":"sUp","g":"S11"},
{"d":"2025-05-07","hi":0.1080,"lo":0.1053,"s":"mix","g":"S12"},
{"d":"2025-05-28","hi":0.1076,"lo":0.1053,"s":"mix","g":"S12"},
{"d":"2025-05-28","hi":0.1076,"lo":0.1053,"s":"sDown","g":"S13"},
{"d":"2025-06-17","hi":0.1013,"lo":0.0977,"s":"sDown","g":"S13"},
{"d":"2025-07-07","hi":0.0955,"lo":0.0923,"s":"sDown","g":"S13"},
{"d":"2025-07-21","hi":0.0932,"lo":0.0918,"s":"sDown","g":"S13"},
{"d":"2025-07-21","hi":0.0932,"lo":0.0918,"s":"mix","g":"S14"},
{"d":"2025-07-23","hi":0.0941,"lo":0.0925,"s":"mix","g":"S14"},
{"d":"2025-07-23","hi":0.0941,"lo":0.0925,"s":"sUp","g":"S15"},
{"d":"2025-08-08","hi":0.1008,"lo":0.0968,"s":"sUp","g":"S15"},
{"d":"2025-08-18","hi":0.1035,"lo":0.1008,"s":"sUp","g":"S15"},
{"d":"2025-08-18","hi":0.1035,"lo":0.1008,"s":"mix","g":"S16"},
{"d":"2025-09-03","hi":0.1031,"lo":0.0999,"s":"mix","g":"S16"},
{"d":"2025-09-03","hi":0.1031,"lo":0.0999,"s":"sUp","g":"S17"},
{"d":"2025-09-08","hi":0.1050,"lo":0.1030,"s":"sUp","g":"S17"},
{"d":"2025-10-10","hi":0.1058,"lo":0.1035,"s":"sUp","g":"S17"},
{"d":"2025-10-13","hi":0.1112,"lo":0.1053,"s":"sUp","g":"S17"},
{"d":"2025-10-15","hi":0.1170,"lo":0.1080,"s":"sUp","g":"S17"},
{"d":"2025-10-20","hi":0.1289,"lo":0.1157,"s":"sUp","g":"S17"},
{"d":"2025-10-24","hi":0.1441,"lo":0.1278,"s":"sUp","g":"S17"},
{"d":"2025-11-03","hi":0.1621,"lo":0.1441,"s":"sUp","g":"S17"},
{"d":"2025-11-10","hi":0.1666,"lo":0.1549,"s":"sUp","g":"S17"},
{"d":"2025-11-14","hi":0.1787,"lo":0.1643,"s":"sUp","g":"S17"},
{"d":"2025-11-21","hi":0.1954,"lo":0.1787,"s":"sUp","g":"S17"}
],
"vma": [
{"d":"2024-05-31","m":1.1},{"d":"2024-06-28","m":1.4},{"d":"2024-07-17","m":1.6},{"d":"2024-08-16","m":1.85},
{"d":"2024-09-04","m":1.85},{"d":"2024-09-10","m":1.6},{"d":"2024-10-01","m":1.4},{"d":"2024-10-30","m":1.1},
{"d":"2024-11-13","m":0.9},{"d":"2024-11-29","m":1.1},{"d":"2024-12-11","m":1.4},{"d":"2024-12-24","m":2.0},
{"d":"2025-01-17","m":2.3},{"d":"2025-02-14","m":2.8},{"d":"2025-02-27","m":2.8},{"d":"2025-03-14","m":2.3},
{"d":"2025-03-27","m":2.6},{"d":"2025-04-03","m":2.3},{"d":"2025-05-20","m":2.3},{"d":"2025-06-10","m":2.0},
{"d":"2025-06-27","m":1.9},{"d":"2025-07-03","m":1.5},{"d":"2025-07-21","m":1.3},{"d":"2025-08-01","m":1.2},
{"d":"2025-09-22","m":1.1},{"d":"2025-10-08","m":1.5},{"d":"2025-10-17","m":2.2},{"d":"2025-10-27","m":2.3},
{"d":"2025-11-10","m":2.6},{"d":"2025-11-21","m":2.9}
]
},
"vconcat": [
{
"width": 952,
"height": 454,
"layer": [
{
"data": {"name": "lr"},
"mark": {"type": "area", "interpolate": "monotone", "opacity": 1},
"encoding": {
"x": {"field": "d", "type": "temporal",
 "scale": {"type": "utc", "domain": [{"year": 2024, "month": 5, "date": 29, "hours": 21, "minutes": 21, "utc": true}, {"year": 2025, "month": 12, "date": 9, "hours": 21, "minutes": 21, "utc": true}]},
 "axis": {"orient": "bottom", "title": null, "grid": false, "tickCount": 40,
  "values": [{"year":2024,"month":6,"date":1,"utc":true},{"year":2024,"month":7,"date":1,"utc":true},{"year":2024,"month":8,"date":1,"utc":true},{"year":2024,"month":9,"date":1,"utc":true},{"year":2024,"month":10,"date":1,"utc":true},{"year":2024,"month":11,"date":1,"utc":true},{"year":2024,"month":12,"date":1,"utc":true},{"year":2025,"month":1,"date":1,"utc":true},{"year":2025,"month":2,"date":1,"utc":true},{"year":2025,"month":3,"date":1,"utc":true},{"year":2025,"month":4,"date":1,"utc":true},{"year":2025,"month":5,"date":1,"utc":true},{"year":2025,"month":6,"date":1,"utc":true},{"year":2025,"month":7,"date":1,"utc":true},{"year":2025,"month":8,"date":1,"utc":true},{"year":2025,"month":9,"date":1,"utc":true},{"year":2025,"month":10,"date":1,"utc":true},{"year":2025,"month":11,"date":1,"utc":true}],
  "labelExpr": "utcmonth(datum.value) == 0 ? utcFormat(datum.value, '%Y') : utcFormat(datum.value, '%b')",
  "labelAlign": "left", "labelDx": 1, "labelPadding": 0, "labelFont": "Liberation Sans", "labelFontSize": 12, "labelFontWeight": "bold", "labelColor": "#111111",
  "labelFlush": false, "labelOverlap": false, "tickSize": 4, "tickColor": "#666666", "domainColor": "#a0a0a0"}},
"y": {"field": "hi", "type": "quantitative",
 "scale": {"domain": [0.0418, 0.2463], "zero": false, "nice": false},
 "axis": {"orient": "right", "title": null, "grid": false, "tickCount": 40, "values": [0.05,0.06,0.07,0.08,0.09,0.10,0.11,0.12,0.13,0.14,0.15,0.16,0.17,0.18,0.19,0.20,0.21,0.22,0.23,0.24],
  "format": ".2f", "labelOverlap": false, "tickSize": 3, "labelPadding": 43, "labelAlign": "right", "labelFont": "Liberation Sans", "labelFontSize": 11, "labelFontWeight": "bold", "labelColor": "#111111", "tickColor": "#808080", "domainColor": "#808080"}},
"y2": {"field": "lo"},
"color": {"field": "s", "type": "nominal", "legend": null,
 "scale": {"domain": ["sUp","sDown","mix","lUp","lDown"], "range": ["#00ee00","#ffb6b6","#ff6a2a","#3cb371","#ff8080"]}},
"detail": {"field": "g"}
}
},
{
"data": {"name": "sr"},
"mark": {"type": "area", "interpolate": "monotone"},
"encoding": {
"x": {"field": "d", "type": "temporal"},
"y": {"field": "hi", "type": "quantitative"},
"y2": {"field": "lo"},
"color": {"field": "s", "type": "nominal", "legend": null},
"detail": {"field": "g"}
}
},
{
"data": {"name": "px"},
"mark": {"type": "rule", "strokeWidth": 1},
"encoding": {
"x": {"field": "d", "type": "temporal"},
"y": {"field": "l", "type": "quantitative"},
"y2": {"field": "h"},
"color": {"value": "#808080", "condition": {"test": "datum.c < datum.o", "value": "#000000"}}
}
},
{
"data": {"name": "px"},
"mark": {"type": "bar", "size": 2.5, "strokeWidth": 0.8},
"encoding": {
"x": {"field": "d", "type": "temporal"},
"y": {"field": "o", "type": "quantitative"},
"y2": {"field": "c"},
"fill": {"value": "#ffffff", "condition": {"test": "datum.c < datum.o", "value": "#000000"}},
"stroke": {"value": "#808080", "condition": {"test": "datum.c < datum.o", "value": "#000000"}}
}
},
{
"data": {"values": [{"t": "Tivan Limited Ordinary (TVN) - Daily"}]},
"mark": {"type": "text", "align": "left", "baseline": "top", "dx": 3, "dy": 2, "font": "Liberation Sans", "fontSize": 12, "fontWeight": "bold", "color": "#1a1a1a"},
"encoding": {
"x": {"datum": {"year": 2024, "month": 5, "date": 29, "hours": 21, "minutes": 21, "utc": true}, "type": "temporal"},
"y": {"datum": 0.2463, "type": "quantitative"},
"text": {"field": "t"}
}
}
]
},
{
"width": 952,
"height": 89,
"layer": [
{
"data": {"name": "px"},
"mark": {"type": "bar", "size": 1.2, "color": "#8484d6"},
"encoding": {
"x": {"field": "d", "type": "temporal",
 "scale": {"type": "utc", "domain": [{"year": 2024, "month": 5, "date": 29, "hours": 21, "minutes": 21, "utc": true}, {"year": 2025, "month": 12, "date": 9, "hours": 21, "minutes": 21, "utc": true}]},
 "axis": {"orient": "top", "title": null, "grid": false, "labels": false, "ticks": false, "domainColor": "#333333"}},
"y": {"field": "v", "type": "quantitative",
 "scale": {"domain": [0, 12.36], "nice": false},
 "axis": {"orient": "right", "title": null, "grid": false, "tickCount": 20, "values": [0,2,4,6,8,10], "labelOverlap": false,
  "labelExpr": "datum.value == 0 ? '0' : datum.value + 'M'", "tickSize": 3, "labelPadding": 43, "labelAlign": "right", "labelFont": "Liberation Sans", "labelFontSize": 11, "labelFontWeight": "bold", "labelColor": "#111111", "tickColor": "#808080", "domainColor": "#808080"}}
}
},
{
"data": {"name": "vma"},
"mark": {"type": "line", "color": "#ff0000", "strokeWidth": 1.5, "interpolate": "monotone"},
"encoding": {
"x": {"field": "d", "type": "temporal"},
"y": {"field": "m", "type": "quantitative"}
}
},
{
"data": {"values": [{"t": "Volume"}]},
"mark": {"type": "text", "align": "left", "baseline": "top", "dx": 2, "dy": 2, "font": "Liberation Sans", "fontSize": 12, "fontWeight": "bold", "color": "#8c8cc8"},
"encoding": {
"x": {"datum": {"year": 2024, "month": 5, "date": 29, "hours": 21, "minutes": 21, "utc": true}, "type": "temporal"},
"y": {"datum": 12.36, "type": "quantitative"},
"text": {"field": "t"}
}
}
]
}
]
}
